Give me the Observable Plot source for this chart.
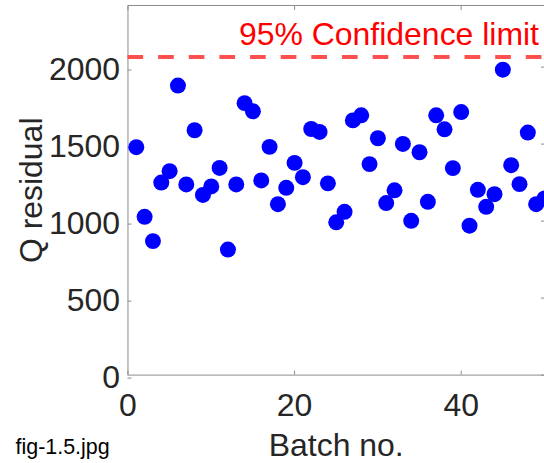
<!DOCTYPE html>
<html>
<head>
<meta charset="utf-8">
<script src="https://cdn.jsdelivr.net/npm/d3@7"></script>
<script src="https://cdn.jsdelivr.net/npm/@observablehq/plot@0.6"></script>
<style>
  html, body { margin: 0; padding: 0; background: #fff; overflow: hidden; }
  #chart svg { display: block; }
</style>
</head>
<body>
<div id="chart"></div>
<script>
// ---- data ----
const batches = [1,2,3,4,5,6,7,8,9,10,11,12,13,14,15,16,17,18,19,20,21,22,23,24,25,26,27,28,29,30,31,32,33,34,35,36,37,38,39,40,41,42,43,44,45,46,47,48,49,50];
const qResidual = [1480,1028,870,1250,1324,1880,1238,1590,1170,1225,1345,815,1238,1766,1713,1264,1482,1110,1216,1378,1285,1598,1579,1245,992,1060,1654,1687,1370,1538,1117,1200,1501,1002,1447,1125,1687,1596,1344,1708,970,1203,1093,1175,1983,1363,1240,1575,1110,1147];
const confidenceLimit = [2065];
const limitLabel = ["95% Confidence limit"];
const xTicks = [0, 20, 40];
const yTicks = [0, 500, 1000, 1500, 2000];
const xDomain = [0, 50];
const yDomain = [0, 2400];
const xLabel = ["Batch no."];
const yLabel = ["Q residual"];
const caption = ["fig-1.5.jpg"];

const points = batches.map((b, i) => ({batch: b, q: qResidual[i]}));

const font = "'Liberation Sans', Arial, Helvetica, sans-serif";
const axisGray = "#8c8c8c";
const textGray = "#262626";
const fmt = d3.format("d");

const chart = Plot.plot({
  width: 545,
  height: 463,
  marginLeft: 127.7,
  marginRight: 0,
  marginTop: 5,
  marginBottom: 87.7,
  style: {fontFamily: font, background: "white", overflow: "visible"},
  x: {domain: xDomain, label: null},
  y: {domain: yDomain, label: null},
  marks: [
    Plot.frame({stroke: axisGray, strokeWidth: 1}),
    // inward ticks on all four sides + labels on left/bottom
    Plot.axisY(yTicks, {anchor: "left", tickSize: -4, tickPadding: 12, tickFormat: fmt, stroke: axisGray, fill: textGray, fontSize: 32, dy: 3}),
    Plot.axisY(yTicks, {anchor: "right", tickSize: -4, tickFormat: () => "", stroke: axisGray}),
    Plot.axisX(xTicks, {anchor: "bottom", tickSize: -4, tickPadding: 22, tickFormat: fmt, stroke: axisGray, fill: textGray, fontSize: 32}),
    Plot.axisX(xTicks, {anchor: "top", tickSize: -4, tickFormat: () => "", stroke: axisGray}),
    // confidence limit
    Plot.ruleY(confidenceLimit, {stroke: "#ff5050", strokeWidth: 4, strokeDasharray: "15.7,15"}),
    Plot.text(limitLabel, {x: () => xDomain[1], y: () => confidenceLimit[0], text: d => d, textAnchor: "end", lineAnchor: "bottom", dx: -5.5, dy: -11.7, fill: "#ff0000", fontSize: 32}),
    // points
    Plot.dot(points, {x: "batch", y: "q", r: 8, fill: "#0000ff", stroke: "none"}),
    // axis titles
    Plot.text(xLabel, {frameAnchor: "bottom", text: d => d, lineAnchor: "bottom", dy: 80.7, fill: textGray, fontSize: 32}),
    Plot.text(yLabel, {frameAnchor: "left", text: d => d, rotate: -90, lineAnchor: "bottom", textAnchor: "middle", dx: -85.7, fill: textGray, fontSize: 32}),
    // caption
    Plot.text(caption, {frameAnchor: "bottom-left", text: d => d, textAnchor: "start", lineAnchor: "bottom", dx: -112.7, dy: 79.4, fill: "#000", fontSize: 21.5})
  ]
});
document.getElementById("chart").appendChild(chart);
</script>
</body>
</html>
